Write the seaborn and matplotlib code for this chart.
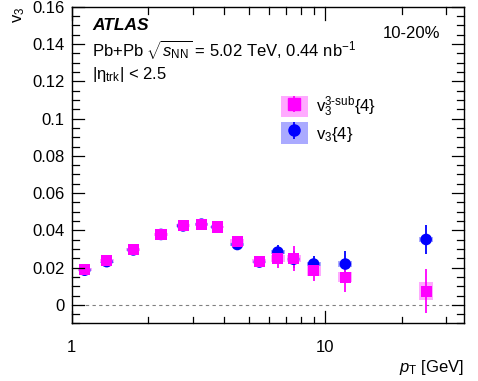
import numpy as np
import pandas as pd
import seaborn as sns
import matplotlib.pyplot as plt
import matplotlib.transforms as mtransforms
from matplotlib.patches import Rectangle, Patch
from matplotlib.legend_handler import HandlerTuple

# pT bin centres [GeV]
pt = [1.125, 1.375, 1.75, 2.25, 2.75, 3.25, 3.75, 4.5, 5.5, 6.5, 7.5, 9.0, 12.0, 25.0]

# v3{4} (standard)
v3_std = [0.0186, 0.0232, 0.0295, 0.0378, 0.0424, 0.0433, 0.0418, 0.0324, 0.0230, 0.0283, 0.0245, 0.0219, 0.0219, 0.0351]
v3_std_stat = [0.0004, 0.0004, 0.0004, 0.0004, 0.0004, 0.0005, 0.0005, 0.0007, 0.0010, 0.0040, 0.0045, 0.0045, 0.0072, 0.0079]
v3_std_sys = [0.0005, 0.0005, 0.0005, 0.0005, 0.0005, 0.0005, 0.0005, 0.0006, 0.0007, 0.0010, 0.0010, 0.0012, 0.0014, 0.0014]

# v3^{3-sub}{4}
v3_sub = [0.0192, 0.0237, 0.0297, 0.0378, 0.0424, 0.0433, 0.0418, 0.0342, 0.0235, 0.0250, 0.0250, 0.0183, 0.0147, 0.0074]
v3_sub_stat = [0.0004, 0.0004, 0.0004, 0.0004, 0.0004, 0.0005, 0.0005, 0.0008, 0.0010, 0.0054, 0.0066, 0.0054, 0.0078, 0.0118]
v3_sub_sys = [0.0008, 0.0008, 0.0008, 0.0008, 0.0008, 0.0008, 0.0008, 0.0010, 0.0012, 0.0020, 0.0020, 0.0027, 0.0027, 0.0050]

y_ticks = [0, 0.02, 0.04, 0.06, 0.08, 0.1, 0.12, 0.14, 0.16]
y_labels = ['0', '0.02', '0.04', '0.06', '0.08', '0.1', '0.12', '0.14', '0.16']
y_minor = [round(-0.01 + 0.005 * i, 3) for i in range(35)]
x_ticks = [1, 10]
x_labels = ['1', '10']
x_minor = [2, 3, 4, 5, 6, 7, 8, 9, 20, 30]

df = pd.DataFrame({"pt": pt, "std": v3_std, "sub": v3_sub})

plt.rcParams['font.family'] = ['Liberation Sans', 'DejaVu Sans']
plt.rcParams['mathtext.fontset'] = 'custom'
plt.rcParams['mathtext.rm'] = 'Liberation Sans'
plt.rcParams['mathtext.it'] = 'Liberation Sans:italic'
plt.rcParams['mathtext.bf'] = 'Liberation Sans:bold'

fig = plt.figure(figsize=(4.78, 3.81), dpi=100)
ax = fig.add_axes([0.15, 0.151, 0.821, 0.831])
ax.set_xscale('log')

box_w = 1.065  # multiplicative half-width of systematic boxes on log axis

def draw_series(y, stat, sys, color, box_color):
    for x, v, s in zip(pt, y, sys):
        ax.add_patch(Rectangle((x / box_w, v - s), x * box_w - x / box_w, 2 * s,
                               facecolor=box_color, edgecolor='none', zorder=2))
    ax.errorbar(pt, y, yerr=stat, fmt='none', ecolor=color, elinewidth=1.3, zorder=3)

draw_series(v3_std, v3_std_stat, v3_std_sys, 'blue', '#aaaaff')
sns.scatterplot(data=df, x="pt", y="std", ax=ax, marker='o', s=70, color='blue',
                edgecolor='none', zorder=4, legend=False)
draw_series(v3_sub, v3_sub_stat, v3_sub_sys, 'magenta', '#ffaaff')
sns.scatterplot(data=df, x="pt", y="sub", ax=ax, marker='s', s=64, color='magenta',
                edgecolor='none', zorder=5, legend=False)

ax.axhline(0, color='gray', linestyle=(0, (3, 3)), linewidth=0.8, zorder=1)

ax.set_xlim(1, 35.3)
ax.set_ylim(-0.01, 0.16)
ax.set_yticks(y_ticks, y_labels)
ax.set_xticks(x_ticks, x_labels)
ax.minorticks_off()
ax.tick_params(which='both', length=0, labelsize=12)
ax.tick_params(axis='y', pad=5)
ax.tick_params(axis='x', pad=12)
for sp in ax.spines.values():
    sp.set_linewidth(1.0)
    sp.set_zorder(6)

# inward ticks on all four sides (drawn as short lines at the axes edges)
ty = mtransforms.blended_transform_factory(ax.transAxes, ax.transData)
tx = mtransforms.blended_transform_factory(ax.transData, ax.transAxes)
major_y, minor_y = 0.032, 0.018
major_x, minor_x = 0.040, 0.022
tick_kw = dict(color='black', linewidth=0.9, clip_on=False, zorder=6)
for v in y_minor:
    ln = major_y if any(abs(v - t) < 1e-9 for t in y_ticks) else minor_y
    ax.plot([0, ln], [v, v], transform=ty, **tick_kw)
    ax.plot([1 - ln, 1], [v, v], transform=ty, **tick_kw)
for v in x_ticks + x_minor:
    ln = major_x if v in x_ticks else minor_x
    ax.plot([v, v], [0, ln], transform=tx, **tick_kw)
    ax.plot([v, v], [1 - ln, 1], transform=tx, **tick_kw)

ax.set_xlabel(r'$p_{\mathrm{T}}$ [GeV]', fontsize=12, loc='right', labelpad=2)
ax.set_ylabel(r'v$_{3}$', fontsize=12, loc='top', labelpad=4)

ax.text(0.052, 0.94, 'ATLAS', transform=ax.transAxes, fontsize=12.5, fontweight='bold',
        fontstyle='italic', va='center')
ax.text(0.052, 0.865, r'Pb+Pb $\sqrt{s_{\mathrm{NN}}}$ = 5.02 TeV, 0.44 nb$^{-1}$',
        transform=ax.transAxes, fontsize=12, va='center')
ax.text(0.052, 0.785, r'|η$_{\mathrm{trk}}$| < 2.5', transform=ax.transAxes,
        fontsize=12, va='center')
ax.text(0.94, 0.915, '10-20%', transform=ax.transAxes, fontsize=12, va='center', ha='right')

h_sub = ax.errorbar([], [], yerr=[], fmt='s', color='magenta', markersize=8, elinewidth=1.3)
h_std = ax.errorbar([], [], yerr=[], fmt='o', color='blue', markersize=8, elinewidth=1.3)
handles = [(Patch(facecolor='#ffaaff', edgecolor='none'), h_sub),
           (Patch(facecolor='#aaaaff', edgecolor='none'), h_std)]
labels = [r'v$_{3}^{\mathrm{3\text{-}sub}}${4}', r'v$_{3}${4}']
ax.legend(handles, labels, handler_map={tuple: HandlerTuple(ndivide=1, pad=0)},
          loc='upper left', bbox_to_anchor=(0.495, 0.77), frameon=False, fontsize=12,
          handlelength=1.6, handleheight=1.6, labelspacing=0.2, handletextpad=0.5)

fig.savefig('out.png', dpi=100)
